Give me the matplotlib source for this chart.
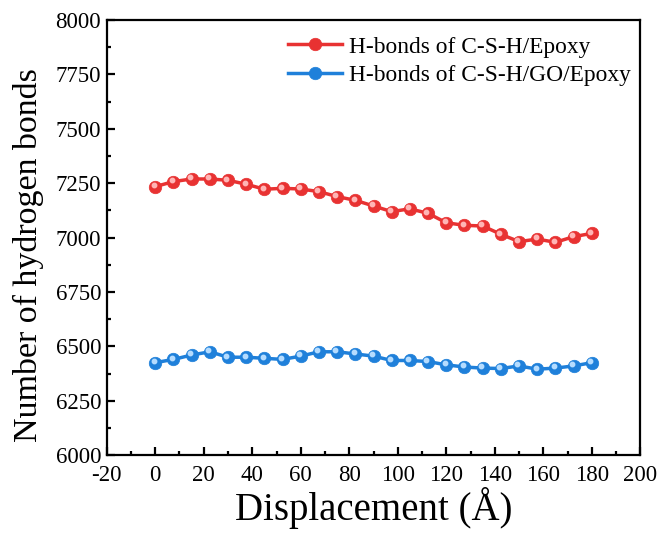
import numpy as np
import matplotlib
matplotlib.use("Agg")
import matplotlib.pyplot as plt
from matplotlib.transforms import ScaledTranslation
from matplotlib.ticker import MultipleLocator

displacement = np.arange(0, 180.1, 7.5)
csh_epoxy = [7234, 7257, 7269, 7269, 7263, 7245, 7222, 7226, 7223, 7211, 7188, 7171,
             7145, 7119, 7132, 7111, 7068, 7056, 7053, 7015, 6981, 6993, 6978, 7004, 7019]
csh_go_epoxy = [6425, 6440, 6460, 6475, 6450, 6450, 6445, 6440, 6455, 6475, 6475, 6465,
                6455, 6435, 6435, 6430, 6415, 6405, 6400, 6398, 6410, 6395, 6400, 6410, 6425]
labels = ["H-bonds of C-S-H/Epoxy", "H-bonds of C-S-H/GO/Epoxy"]
colors = ["#E83232", "#1F80DA"]
highlights = ["#FFB5B5", "#B5DCFF"]

plt.rcParams["font.family"] = ["Liberation Serif", "DejaVu Serif"]
plt.rcParams["axes.unicode_minus"] = False

fig = plt.figure(figsize=(6.67, 5.38), dpi=100)
ax = fig.add_axes([0.160, 0.154, 0.800, 0.809])

shine = ax.transData + ScaledTranslation(-1.2 / 72, 1.2 / 72, fig.dpi_scale_trans)
for ys, lab, c, h in zip([csh_epoxy, csh_go_epoxy], labels, colors, highlights):
    ax.plot(displacement, ys, color=c, lw=2.5, marker="o", ms=9,
            markerfacecolor=c, markeredgecolor=c, markeredgewidth=0.5, label=lab, zorder=3)
    ax.plot(displacement, ys, ls="none", marker="o", ms=3.2, color=h,
            transform=shine, zorder=4)

ax.set_xlim(-20, 200)
ax.set_ylim(6000, 8000)
ax.xaxis.set_major_locator(MultipleLocator(20))
ax.xaxis.set_minor_locator(MultipleLocator(10))
ax.yaxis.set_major_locator(MultipleLocator(250))
ax.yaxis.set_minor_locator(MultipleLocator(125))
ax.tick_params(which="both", direction="in", top=False, right=False,
               labelsize=16.5, width=1.6, pad=4)
ax.tick_params(axis="x", which="both", pad=7)
ax.tick_params(which="major", length=6)
ax.tick_params(which="minor", length=3)
for s in ax.spines.values():
    s.set_linewidth(1.6)

ax.set_xlabel("Displacement (Å)", fontsize=28, labelpad=1)
ax.set_ylabel("Number of hydrogen bonds", fontsize=24.5)
ax.yaxis.set_label_coords(-0.118, 0.46)

ax.legend(loc="upper right", frameon=False, fontsize=16.8, handlelength=2.3,
          handletextpad=0.3, labelspacing=0.3, borderaxespad=0.3,
          bbox_to_anchor=(1.013, 1.0))

fig.savefig("out.png", dpi=100)
